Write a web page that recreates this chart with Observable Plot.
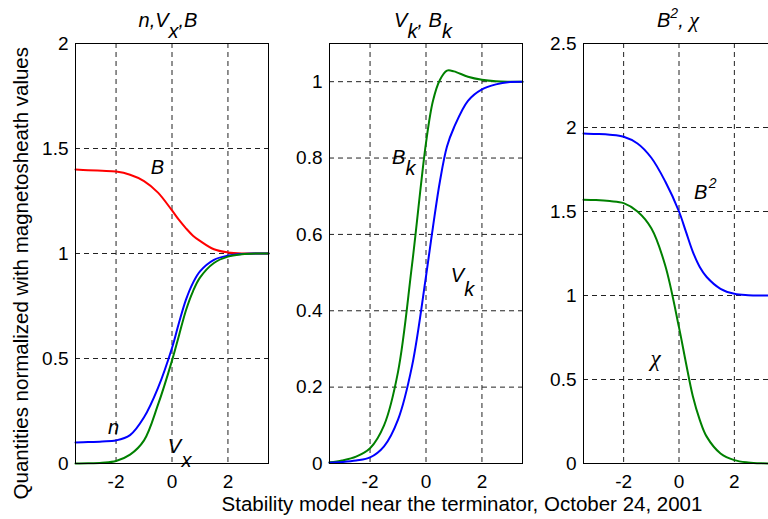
<!DOCTYPE html>
<html><head><meta charset="utf-8">
<script src="https://cdn.jsdelivr.net/npm/d3@7"></script>
<script src="https://cdn.jsdelivr.net/npm/@observablehq/plot@0.6"></script>
<style>
html,body{margin:0;padding:0;background:#fff;overflow:hidden}
#c{position:relative;width:768px;height:519px;overflow:hidden;font-family:"Liberation Sans",Arial,sans-serif}
.p{position:absolute;top:0}
#ov{position:absolute;left:0;top:0;pointer-events:none}
</style></head>
<body><div id="c"></div>
<script>
// shared x positions (distance from terminator)
const xs = [-3.45,-3,-2.5,-2,-1.5,-1,-0.5,0,0.25,0.5,0.75,1,1.5,2,2.5,3,3.45];
// panel 1: n, Vx, B
const B   = [1.40,1.397,1.394,1.39,1.375,1.345,1.29,1.205,1.16,1.12,1.085,1.06,1.02,1.005,1.0,1.0,1.0];
const nD  = [0.10,0.102,0.105,0.11,0.135,0.22,0.36,0.55,0.67,0.78,0.86,0.915,0.97,0.99,0.998,1.0,1.0];
const Vx  = [0.0,0.001,0.004,0.012,0.042,0.11,0.28,0.49,0.61,0.73,0.82,0.885,0.955,0.985,0.996,1.0,1.0];
// panel 2: Vk, Bk
const Bk  = [0.003,0.008,0.018,0.04,0.1,0.24,0.52,0.84,0.95,1.005,1.029,1.027,1.013,1.005,1.001,1.0,1.0];
const Vk  = [0.002,0.004,0.008,0.016,0.045,0.115,0.255,0.49,0.62,0.74,0.83,0.88,0.95,0.98,0.993,0.999,1.0];
// panel 3: B^2, chi
const B2  = [1.965,1.962,1.957,1.945,1.905,1.82,1.68,1.5,1.38,1.26,1.17,1.11,1.04,1.01,1.002,1.0,1.0];
const chi = [1.57,1.568,1.562,1.55,1.5,1.4,1.18,0.81,0.6,0.40,0.26,0.16,0.06,0.02,0.006,0.001,0.0];
// ticks
const xTicks = [-2,0,2];
const yTicks1 = [0,0.5,1,1.5,2];
const yTicks2 = [0,0.2,0.4,0.6,0.8,1];
const yTicks3 = [0,0.5,1,1.5,2,2.5];

const RED="#ff0000", BLUE="#0000ff", GREEN="#008000";
const rows = ys => xs.map((x,i)=>({x, y: ys[i]}));

function panel(left, width, yDomain, yTicks, series, labels){
  const marks = [
    Plot.gridX(xTicks,{stroke:"#222",strokeOpacity:1,strokeDasharray:"5,4"}),
    Plot.gridY(yTicks,{stroke:"#222",strokeOpacity:1,strokeDasharray:"5,4"}),
    ...series.map(s => Plot.line(rows(s.v), {x:"x", y:"y", stroke:s.c, strokeWidth:2, curve:"catmull-rom"})),
    ...labels.map(l => Plot.text([l], {x:"x", y:"y", text:d=>d.t, dx:l.dx||0, dy:l.dy||0, fontStyle:"italic",
        fontSize:l.fs||20, fontFamily:l.ff||"Liberation Sans, Arial, sans-serif", fill:"black"})),
    Plot.frame({stroke:"black", strokeWidth:1}),
    Plot.axisX({ticks:xTicks, tickSize:0, tickPadding:11, tickFormat:d=>String(d), label:null}),
    Plot.axisY({ticks:yTicks, tickSize:0, tickPadding:7, tickFormat:d=>String(d), label:null})
  ];
  const svg = Plot.plot({
    width, height:490, marginLeft:45, marginRight:7, marginTop:43, marginBottom:27,
    x:{domain:[-3.45,3.45]}, y:{domain:yDomain},
    style:{fontFamily:"Liberation Sans, Arial, sans-serif", fontSize:"19px", color:"black", background:"transparent", overflow:"visible"},
    marks
  });
  svg.classList.add("p");
  svg.style.left = left+"px";
  document.getElementById("c").appendChild(svg);
}

panel(30, 245, [0,2], yTicks1,
  [{v:B,c:RED},{v:nD,c:BLUE},{v:Vx,c:GREEN}],
  [{x:-0.52,y:1.41,t:"B"},{x:-2.09,y:0.171,t:"n"},{x:0.09,y:0.081,t:"V"},{x:0.09,y:0.081,t:"x",dx:12,dy:14}]);
panel(284, 245, [0,1.1], yTicks2,
  [{v:Bk,c:GREEN},{v:Vk,c:BLUE}],
  [{x:-0.98,y:0.802,t:"B"},{x:-0.98,y:0.802,t:"k",dx:12,dy:11},{x:1.12,y:0.491,t:"V"},{x:1.12,y:0.491,t:"k",dx:12,dy:14}]);
panel(538, 243, [0,2.5], yTicks3,
  [{v:B2,c:BLUE},{v:chi,c:GREEN}],
  [{x:0.78,y:1.613,t:"B"},{x:0.78,y:1.613,t:"2",dx:12,dy:-9,fs:14},{x:-0.85,y:0.625,t:"χ",ff:"Liberation Serif, serif",fs:23}]);

// titles and axis captions
const ns="http://www.w3.org/2000/svg";
const ov = document.createElementNS(ns,"svg");
ov.setAttribute("id","ov"); ov.setAttribute("width",768); ov.setAttribute("height",519);
ov.innerHTML = `
<g font-family="Liberation Sans, Arial, sans-serif" fill="black">
 <text x="168" y="27" text-anchor="middle" font-size="20" font-style="italic">n,V<tspan dy="11">x</tspan><tspan dy="-11">,B</tspan></text>
 <text x="423" y="27" text-anchor="middle" font-size="20" font-style="italic">V<tspan dy="11">k</tspan><tspan dy="-11">, B</tspan><tspan dy="11">k</tspan></text>
 <text x="678" y="27" text-anchor="middle" font-size="20" font-style="italic">B<tspan dy="-9" font-size="14">2</tspan><tspan dy="9">, </tspan><tspan font-family="Liberation Serif, serif" font-size="22">χ</tspan></text>
 <text x="462" y="511" text-anchor="middle" font-size="20.5">Stability model near the terminator, October 24, 2001</text>
 <text transform="translate(28,47) rotate(-90)" text-anchor="end" font-size="20.5">Quantities normalized with magnetosheath values</text>
</g>`;
document.getElementById("c").appendChild(ov);
</script>
</body></html>
